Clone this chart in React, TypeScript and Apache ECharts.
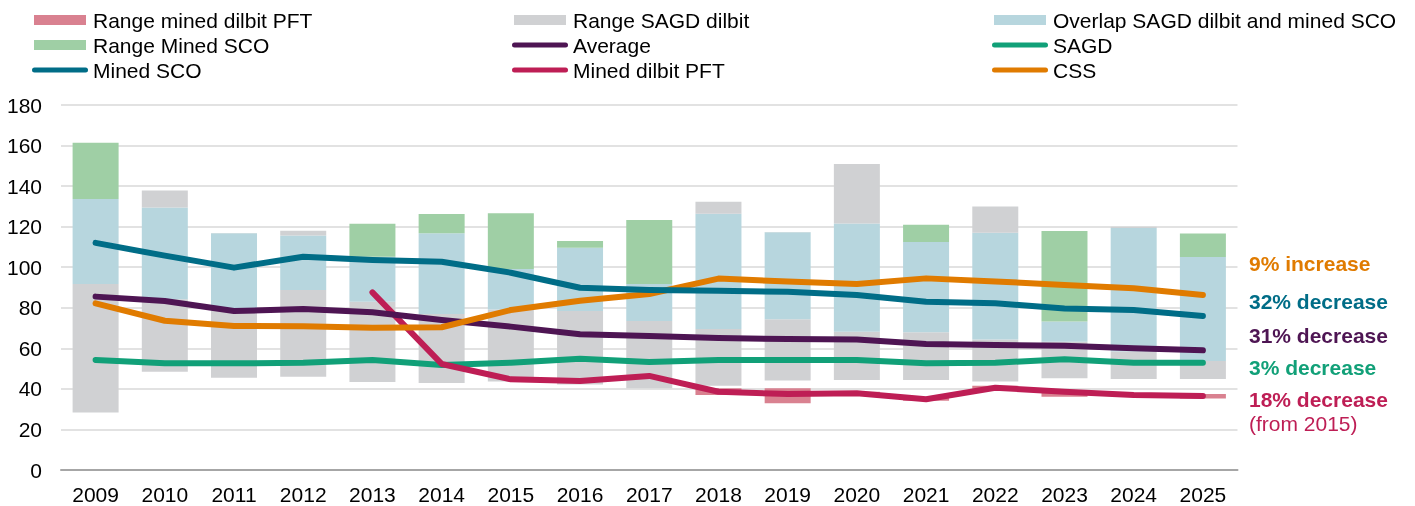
import React, { useEffect, useRef } from "react";
import * as echarts from "echarts";

const years = ["2009", "2010", "2011", "2012", "2013", "2014", "2015", "2016", "2017", "2018", "2019", "2020", "2021", "2022", "2023", "2024", "2025"];

// Ranges (min / max) per year
const sagdMin = [28.4, 48.5, 45.5, 46.0, 43.4, 42.9, 43.6, 42.2, 40.3, 41.5, 44.1, 44.4, 44.4, 43.6, 45.2, 44.9, 44.9];
const sagdMax = [133.7, 137.8, 116.9, 118.0, 105.2, 116.7, 99.1, 109.6, 91.7, 132.3, 117.4, 150.9, 112.4, 129.9, 73.2, 120.0, 105.0];
const scoMin = [91.7, 84.2, 78.9, 88.8, 83.0, 76.9, 79.2, 78.4, 73.5, 69.5, 74.3, 68.2, 67.9, 64.4, 63.3, 58.4, 53.8];
const scoMax = [161.4, 129.4, 116.7, 115.6, 121.5, 126.3, 126.6, 112.9, 123.3, 126.4, 117.2, 121.6, 121.0, 117.0, 117.9, 119.3, 116.6];
const pftMin = [null, null, null, null, null, null, null, null, null, 37.0, 32.9, 36.6, 34.2, 39.0, 36.1, 36.4, 35.3];
const pftMax = [null, null, null, null, null, null, null, null, null, 40.3, 40.3, 38.6, 35.8, 41.6, 39.5, 37.8, 37.5];

// Lines
const minedSCO = [112.0, 105.7, 99.8, 105.2, 103.6, 102.7, 97.3, 89.9, 88.8, 88.4, 87.9, 86.3, 83.0, 82.2, 79.7, 78.9, 75.9];
const average = [85.5, 83.3, 78.4, 79.4, 77.8, 74.0, 70.7, 66.9, 66.1, 65.1, 64.6, 64.4, 62.1, 61.6, 61.3, 60.0, 59.0];
const sagd = [54.3, 52.6, 52.6, 52.9, 54.3, 51.8, 52.9, 54.9, 53.3, 54.3, 54.3, 54.3, 52.6, 52.9, 54.6, 52.9, 52.9];
const minedPFT = [null, null, null, null, 87.6, 52.3, 44.7, 43.9, 46.4, 38.6, 37.5, 37.8, 34.9, 40.6, 38.6, 37.0, 36.5];
const css = [82.2, 73.6, 71.0, 70.9, 70.2, 70.4, 78.9, 83.5, 86.8, 94.4, 92.9, 91.7, 94.5, 93.0, 91.2, 89.6, 86.3];

const annotations = [
  { text: "9% increase", color: "#e07b00", bold: true },
  { text: "32% decrease", color: "#006d87", bold: true },
  { text: "31% decrease", color: "#4e1553", bold: true },
  { text: "3% decrease", color: "#11a078", bold: true },
  { text: "18% decrease", color: "#be1e55", bold: true },
  { text: "(from 2015)", color: "#be1e55", bold: false },
];

const C = {
  pink: "#d98190",
  gray: "#d0d1d3",
  blue: "#b7d6de",
  green: "#9fcfa5",
  teal: "#006d87",
  purple: "#4e1553",
  sagd: "#11a078",
  pft: "#be1e55",
  css: "#e07b00",
};

const FONT = 'Arial, "Liberation Sans", sans-serif';
const RECT_ICON = "path://M0,0 H52 V10 H0 Z";
const LINE_ICON = "path://M2.5,0 H53.5 A2.5,2.5 0 0 1 53.5,5 H2.5 A2.5,2.5 0 0 1 2.5,0 Z";

export default function App() {
  const ref = useRef<HTMLDivElement>(null);
  useEffect(() => {
    if (!ref.current) return;
    const chart = echarts.init(ref.current, null, { renderer: "svg" });

    const n = years.length;
    const base: number[] = [];
    const lowGray: number[] = [];
    const lowGreen: number[] = [];
    const overlap: number[] = [];
    const upGray: number[] = [];
    const upGreen: number[] = [];
    for (let i = 0; i < n; i++) {
      const lo = Math.min(sagdMin[i], scoMin[i]);
      const oLo = Math.max(sagdMin[i], scoMin[i]);
      const oHi = Math.min(sagdMax[i], scoMax[i]);
      const hi = Math.max(sagdMax[i], scoMax[i]);
      base.push(lo);
      lowGray.push(sagdMin[i] <= scoMin[i] ? oLo - lo : 0);
      lowGreen.push(sagdMin[i] > scoMin[i] ? oLo - lo : 0);
      overlap.push(oHi - oLo);
      upGray.push(sagdMax[i] >= scoMax[i] ? hi - oHi : 0);
      upGreen.push(sagdMax[i] < scoMax[i] ? hi - oHi : 0);
    }
    const pftBase = pftMin.map((v) => (v == null ? null : v));
    const pftRange = pftMin.map((v, i) => (v == null || pftMax[i] == null ? null : (pftMax[i] as number) - v));

    const barCommon = {
      type: "bar",
      stack: "ranges",
      barWidth: 46,
      silent: true,
      emphasis: { disabled: true },
    };
    const lineCommon = (name: string, data: (number | null)[], color: string) => ({
      name,
      type: "line",
      data,
      showSymbol: false,
      symbol: "none",
      silent: true,
      z: 5,
      color,
      lineStyle: { width: 6, color, cap: "round", join: "round" },
      emphasis: { disabled: true },
    });

    const legendCommon = {
      orient: "vertical",
      top: 7.5,
      itemWidth: 56,
      itemHeight: 10,
      itemGap: 0,
      padding: 0,
      selectedMode: false,
      textStyle: { fontSize: 21, color: "#000", fontFamily: FONT, lineHeight: 25 },
    };

    chart.setOption({
      animation: false,
      textStyle: { fontFamily: FONT },
      legend: [
        {
          ...legendCommon,
          left: 32,
          data: [
            { name: "Range mined dilbit PFT", icon: RECT_ICON, itemStyle: { color: C.pink } },
            { name: "Range Mined SCO", icon: RECT_ICON, itemStyle: { color: C.green } },
            { name: "Mined SCO", icon: LINE_ICON, itemStyle: { color: C.teal } },
          ],
        },
        {
          ...legendCommon,
          left: 512,
          data: [
            { name: "Range SAGD dilbit", icon: RECT_ICON, itemStyle: { color: C.gray } },
            { name: "Average", icon: LINE_ICON, itemStyle: { color: C.purple } },
            { name: "Mined dilbit PFT", icon: LINE_ICON, itemStyle: { color: C.pft } },
          ],
        },
        {
          ...legendCommon,
          left: 992,
          data: [
            { name: "Overlap SAGD dilbit and mined SCO", icon: RECT_ICON, itemStyle: { color: C.blue } },
            { name: "SAGD", icon: LINE_ICON, itemStyle: { color: C.sagd } },
            { name: "CSS", icon: LINE_ICON, itemStyle: { color: C.css } },
          ],
        },
      ],
      grid: { left: 61, right: 177.5, top: 105, bottom: 36, containLabel: false },
      xAxis: {
        type: "category",
        data: years,
        boundaryGap: true,
        axisLine: { show: true, lineStyle: { color: "#a6a6a6", width: 2 } },
        axisTick: { show: false },
        axisLabel: { fontSize: 21, color: "#000", fontFamily: FONT, margin: 14 },
      },
      yAxis: {
        type: "value",
        min: 0,
        max: 180,
        interval: 20,
        axisLine: { show: false },
        axisTick: { show: false },
        axisLabel: { fontSize: 21, color: "#000", fontFamily: FONT, margin: 19 },
        splitLine: { lineStyle: { color: "#d9d9d9", width: 1.5 } },
      },
      series: [
        { ...barCommon, name: "base", data: base, itemStyle: { color: "rgba(0,0,0,0)" } },
        { ...barCommon, name: "Range SAGD dilbit", data: lowGray, itemStyle: { color: C.gray } },
        { ...barCommon, name: "Range Mined SCO", data: lowGreen, itemStyle: { color: C.green } },
        { ...barCommon, name: "Overlap SAGD dilbit and mined SCO", data: overlap, itemStyle: { color: C.blue } },
        { ...barCommon, name: "Range SAGD dilbit", data: upGray, itemStyle: { color: C.gray } },
        { ...barCommon, name: "Range Mined SCO", data: upGreen, itemStyle: { color: C.green } },
        { ...barCommon, stack: "pft", barGap: "-100%", name: "pftBase", data: pftBase, itemStyle: { color: "rgba(0,0,0,0)" } },
        { ...barCommon, stack: "pft", barGap: "-100%", name: "Range mined dilbit PFT", data: pftRange, itemStyle: { color: C.pink } },
        lineCommon("SAGD", sagd, C.sagd),
        lineCommon("Mined dilbit PFT", minedPFT, C.pft),
        lineCommon("Average", average, C.purple),
        lineCommon("CSS", css, C.css),
        lineCommon("Mined SCO", minedSCO, C.teal),
      ],
      graphic: annotations.map((a, i) => ({
        type: "text",
        left: 1249,
        top: [265, 303, 337, 369, 401, 425][i] - 12,
        silent: true,
        style: {
          text: a.text,
          fill: a.color,
          font: `${a.bold ? "bold " : ""}21px ${FONT}`,
        },
      })),
    });
    return () => chart.dispose();
  }, []);
  return <div ref={ref} style={{ position: "fixed", left: 0, top: 0, width: 1415, height: 506 }} />;
}
